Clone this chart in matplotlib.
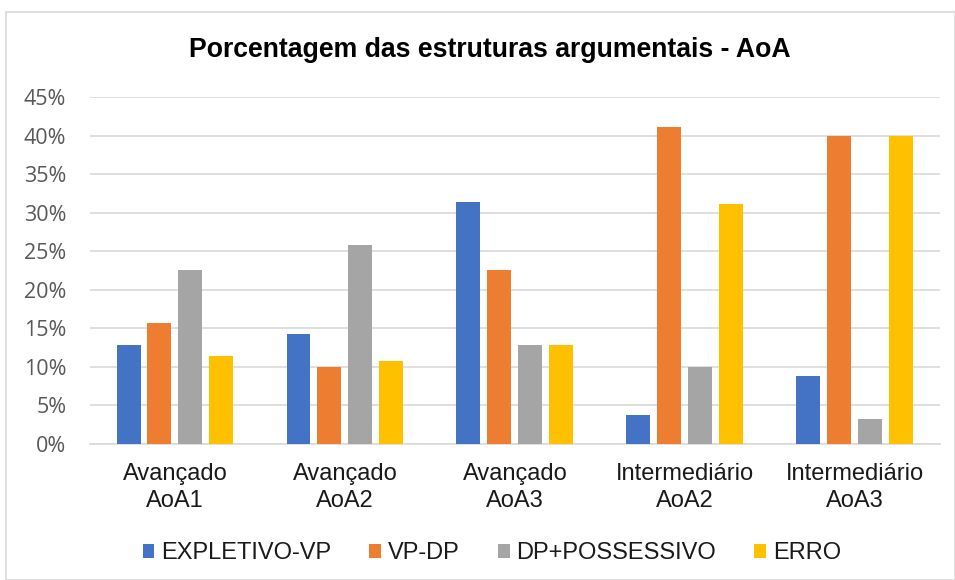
import matplotlib
matplotlib.use("Agg")
import matplotlib.pyplot as plt
import numpy as np
from matplotlib.patches import Rectangle

plt.rcParams['font.family'] = ['Liberation Sans', 'DejaVu Sans']

categories = ["Avançado\nAoA1", "Avançado\nAoA2", "Avançado\nAoA3", "Intermediário\nAoA2", "Intermediário\nAoA3"]
series_names = ["EXPLETIVO-VP", "VP-DP", "DP+POSSESSIVO", "ERRO"]
expletivo_vp = [12.9, 14.2, 31.4, 3.7, 8.8]
vp_dp = [15.7, 10.0, 22.6, 41.1, 40.0]
dp_possessivo = [22.5, 25.8, 12.9, 10.0, 3.2]
erro = [11.4, 10.8, 12.9, 31.1, 40.0]
colors = ["#4472C4", "#ED7D31", "#A5A5A5", "#FFC000"]
yticks = [0, 5, 10, 15, 20, 25, 30, 35, 40, 45]

fig = plt.figure(figsize=(9.55, 5.8), dpi=100)
ax = fig.add_axes([0.0942, 0.2345, 0.8898, 0.5983])

x = np.arange(len(categories))
bw = 0.141
stride = 0.182
all_series = [expletivo_vp, vp_dp, dp_possessivo, erro]
for i, (vals, c, name) in enumerate(zip(all_series, colors, series_names)):
    ax.bar(x + (i - 1.5) * stride, vals, width=bw, color=c, label=name, zorder=3)

ax.set_xlim(-0.5, len(categories) - 0.5)
ax.set_ylim(0, 45)
ax.set_yticks(yticks)
ax.set_yticklabels([f"{v}%" for v in yticks], fontsize=15.5, color="#595959",
                   family=['Open Sans', 'DejaVu Sans'])
ax.set_xticks(x)
ax.set_xticklabels(categories, fontsize=17, color="#1a1a1a", linespacing=1.3)
ax.tick_params(axis='both', length=0)
ax.tick_params(axis='y', pad=17)
ax.tick_params(axis='x', pad=13.5)
ax.grid(axis='y', color="#D9D9D9", linewidth=1.2, zorder=0)
for s in ["top", "right", "left"]:
    ax.spines[s].set_visible(False)
ax.spines["bottom"].set_color("#D9D9D9")
ax.spines["bottom"].set_linewidth(1.2)

fig.text(0.513, 0.914, "Porcentagem das estruturas argumentais - AoA", ha="center", va="center",
         fontsize=19.2, fontweight="bold", color="black")

leg = fig.legend(loc="center", bbox_to_anchor=(0.515, 0.046), ncol=4, frameon=False,
                 fontsize=17, handlelength=0.5, handleheight=0.6,
                 handletextpad=0.3, columnspacing=1.6)
for t in leg.get_texts():
    t.set_color("#1a1a1a")

fig.patches.append(Rectangle((0.006, 0.0), 0.994, 0.979, transform=fig.transFigure,
                             fill=False, edgecolor="#D9D9D9", linewidth=1.2))

fig.savefig("out.png", dpi=100)
